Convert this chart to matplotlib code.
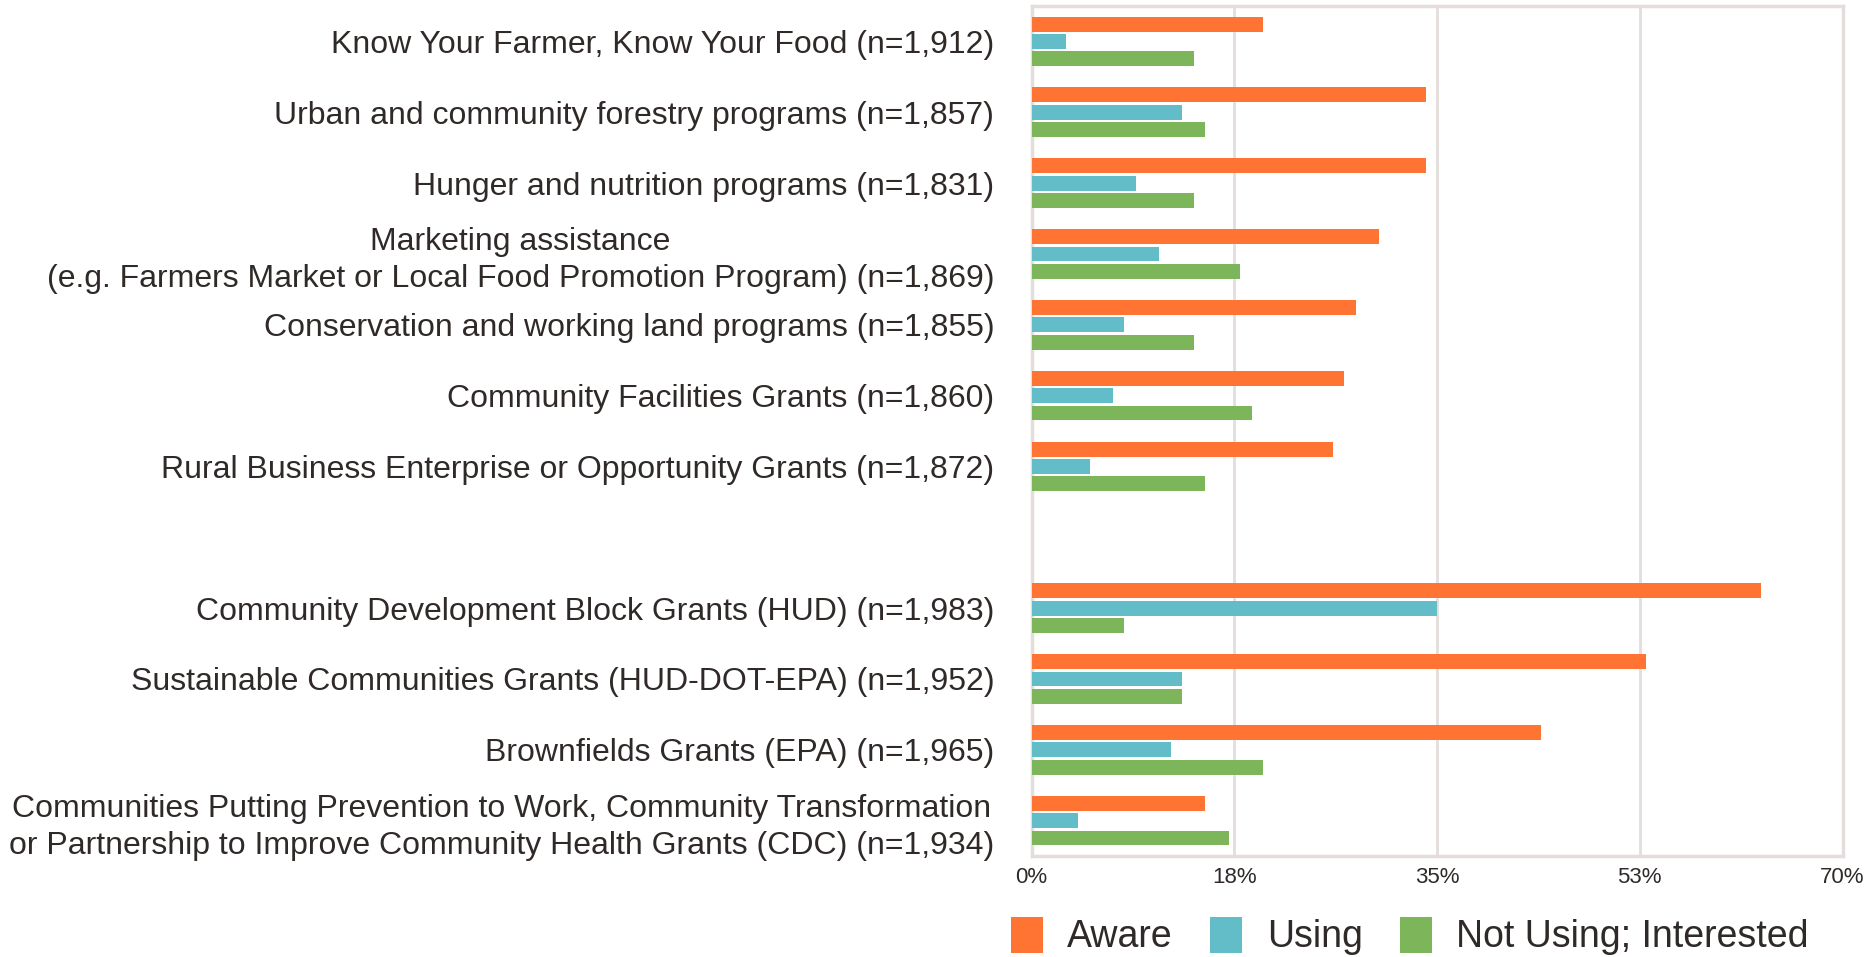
import matplotlib
matplotlib.use("Agg")
import matplotlib.pyplot as plt
from matplotlib.patches import Patch

plt.rcParams['font.family'] = ['Liberation Sans', 'DejaVu Sans']

categories_top = [
    "Know Your Farmer, Know Your Food (n=1,912)",
    "Urban and community forestry programs (n=1,857)",
    "Hunger and nutrition programs (n=1,831)",
    "Marketing assistance\n(e.g. Farmers Market or Local Food Promotion Program) (n=1,869)",
    "Conservation and working land programs (n=1,855)",
    "Community Facilities Grants (n=1,860)",
    "Rural Business Enterprise or Opportunity Grants (n=1,872)",
]
categories_bottom = [
    "Community Development Block Grants (HUD) (n=1,983)",
    "Sustainable Communities Grants (HUD-DOT-EPA) (n=1,952)",
    "Brownfields Grants (EPA) (n=1,965)",
    "Communities Putting Prevention to Work, Community Transformation\nor Partnership to Improve Community Health Grants (CDC) (n=1,934)",
]

aware_top = [20, 34, 34, 30, 28, 27, 26]
using_top = [3, 13, 9, 11, 8, 7, 5]
interested_top = [14, 15, 14, 18, 14, 19, 15]

aware_bottom = [63, 53, 44, 15]
using_bottom = [35, 13, 12, 4]
interested_bottom = [8, 13, 20, 17]

series_names = ["Aware", "Using", "Not Using; Interested"]
colors = ["#FF7333", "#63BDC8", "#7CB55A"]
xticks = [0, 17.5, 35, 52.5, 70]
xtick_labels = ["0%", "18%", "35%", "53%", "70%"]

labels = categories_top + categories_bottom
aware = aware_top + aware_bottom
using = using_top + using_bottom
interested = interested_top + interested_bottom
positions = list(range(len(categories_top))) + [len(categories_top) + 1 + i for i in range(len(categories_bottom))]

fig = plt.figure(figsize=(18.7, 9.57), dpi=100)
ax = fig.add_axes([0.5517, 0.1055, 0.4336, 0.8882])

text_color = "#2f2a28"
grid_color = "#e3dddb"

bh = 0.21
off = 0.245
for vals, c, d in zip([aware, using, interested], colors, [-off, 0, off]):
    ax.barh([p + d for p in positions], vals, height=bh, color=c, zorder=3)

ax.set_xlim(0, 70)
ax.set_ylim(len(positions) + 0.5, -0.5)
ax.set_xticks(xticks)
ax.set_xticklabels(xtick_labels, fontsize=16, color=text_color)
ax.set_yticks(positions)
ax.set_yticklabels(labels, fontsize=23, color=text_color, multialignment='center', linespacing=1.3)
ax.tick_params(axis='both', length=0)
ax.tick_params(axis='y', pad=27)
ax.tick_params(axis='x', pad=8)
ax.grid(axis='x', color=grid_color, linewidth=2, zorder=0)
for s in ax.spines.values():
    s.set_color(grid_color)
    s.set_linewidth(2.5)

handles = [Patch(facecolor=c, edgecolor='none') for c in colors]
fig.legend(handles, series_names, loc='center', bbox_to_anchor=(0.754, 0.022),
           ncol=3, frameon=False, fontsize=27, handlelength=0.85, handleheight=1.1,
           handletextpad=0.65, columnspacing=1.0, labelcolor=text_color)

fig.savefig("out.png", dpi=100)
